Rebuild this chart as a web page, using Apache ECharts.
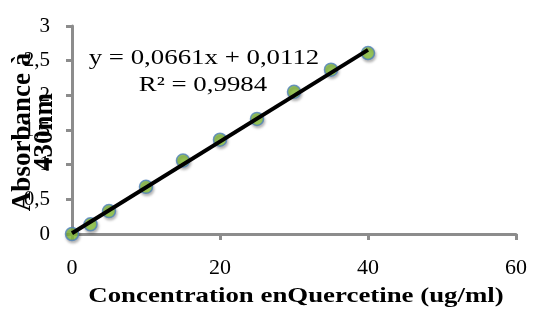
<!DOCTYPE html>
<html>
<head>
<meta charset="utf-8">
<script src="https://cdn.jsdelivr.net/npm/echarts@6/dist/echarts.min.js"></script>
<style>
  html, body { margin: 0; padding: 0; background: #fff; }
  #chart { width: 533px; height: 309px; }
</style>
</head>
<body>
<div id="chart"></div>
<script>
// concentration (ug/ml) and absorbance
const concentration = [0, 2.5, 5, 10, 15, 20, 25, 30, 35, 40];
const absorbance = [0.0, 0.14, 0.33, 0.68, 1.06, 1.36, 1.66, 2.05, 2.37, 2.61];

// linear trendline endpoints (y = 0,0661x + 0,0112)
const trendX = [0, 40];
const trendY = [0.0112, 2.6552];

const equationText = 'y = 0,0661x + 0,0112';
const r2Text = 'R² = 0,9984';
const xTitle = 'Concentration enQuercetine (ug/ml)';
const yTitle = 'Absorbance à\n430nm';

const font = 'Liberation Serif';
const axisGrey = '#8c8c8c';
// the original picture is a bit wider than tall, text looks stretched
const stretch = 1.22;

const chart = echarts.init(document.getElementById('chart'));

chart.setOption({
  animation: false,
  grid: { left: 72, right: 17, top: 26, bottom: 75, containLabel: false, outerBoundsMode: 'none' },
  xAxis: {
    type: 'value',
    min: 0,
    max: 60,
    interval: 20,
    axisLine: { show: true, lineStyle: { color: axisGrey, width: 3 } },
    axisTick: { show: true, length: 6, lineStyle: { color: axisGrey, width: 3 } },
    axisLabel: { fontFamily: font, fontSize: 22, color: '#000', margin: 23 },
    splitLine: { show: false }
  },
  yAxis: {
    type: 'value',
    min: 0,
    max: 3,
    interval: 0.5,
    axisLine: { show: true, lineStyle: { color: axisGrey, width: 3 } },
    axisTick: { show: true, length: 6, lineStyle: { color: axisGrey, width: 3 } },
    axisLabel: {
      fontFamily: font, fontSize: 21, color: '#000', margin: 22,
      formatter: v => String(v).replace('.', ',')
    },
    splitLine: { show: false }
  },
  series: [
    {
      type: 'scatter',
      data: concentration.map((c, i) => [c, absorbance[i]]),
      symbol: 'circle',
      symbolSize: 13,
      itemStyle: {
        color: '#8cc63f',
        borderColor: '#4f81bd',
        borderWidth: 1.5,
        shadowColor: 'rgba(0,0,0,0.35)',
        shadowBlur: 3,
        shadowOffsetX: 1,
        shadowOffsetY: 2
      },
      z: 2
    },
    {
      type: 'line',
      data: trendX.map((x, i) => [x, trendY[i]]),
      symbol: 'none',
      lineStyle: { color: '#000', width: 4 },
      z: 3
    }
  ],
  graphic: [
    {
      type: 'text', x: 204, y: 58, scaleX: stretch,
      style: { text: equationText, font: '22px "Liberation Serif"', fill: '#000', align: 'center', verticalAlign: 'middle' }
    },
    {
      type: 'text', x: 203, y: 85, scaleX: stretch,
      style: { text: r2Text, font: '22px "Liberation Serif"', fill: '#000', align: 'center', verticalAlign: 'middle' }
    },
    {
      type: 'text', x: 296, y: 296, scaleX: stretch,
      style: { text: xTitle, font: 'bold 22px "Liberation Serif"', fill: '#000', align: 'center', verticalAlign: 'middle' }
    },
    {
      type: 'text', x: 34, y: 132, rotation: Math.PI / 2,
      style: { text: yTitle, font: 'bold 27px "Liberation Serif"', lineHeight: 22, fill: '#000', align: 'center', verticalAlign: 'middle' }
    }
  ]
});
</script>
</body>
</html>
